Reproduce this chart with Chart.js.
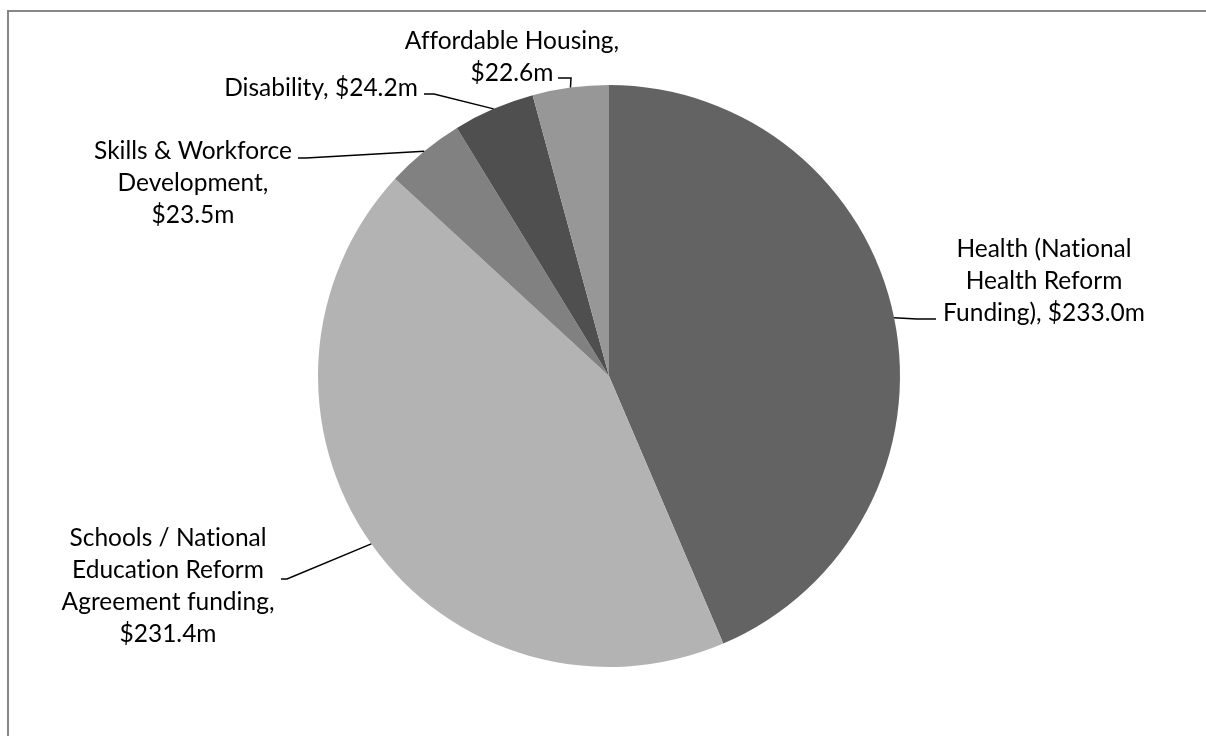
<!DOCTYPE html>
<html>
<head>
<meta charset="utf-8">
<title>Funding by area</title>
<script src="https://cdn.jsdelivr.net/npm/chart.js@4.4.1/dist/chart.umd.min.js"></script>
<style>
  html, body { margin: 0; padding: 0; background: #ffffff; }
  #wrap { position: relative; width: 1206px; height: 736px; overflow: hidden; }
  canvas { display: block; font-variant-ligatures: none; }
</style>
</head>
<body>
<div id="wrap"><canvas id="pie" width="1206" height="736"></canvas></div>
<script>
// Funding areas, clockwise from 12 o'clock
const categories = [
  'Health (National Health Reform Funding)',
  'Schools / National Education Reform Agreement funding',
  'Skills & Workforce Development',
  'Disability',
  'Affordable Housing'
];
// Amounts in $ millions
const amounts = [233.0, 231.4, 23.5, 24.2, 22.6];
// Label text, one entry per line
const labelLines = [
  ['Health (National', 'Health Reform', 'Funding), $233.0m'],
  ['Schools / National', 'Education Reform', 'Agreement funding,', '$231.4m'],
  ['Skills & Workforce', 'Development,', '$23.5m'],
  ['Disability, $24.2m'],
  ['Affordable Housing,', '$22.6m']
];

// Slice fills
const sliceColors = ['#636363', '#b3b3b3', '#818181', '#4f4f4f', '#979797'];

// Where each label block sits (centre x, first baseline y) and where its leader starts/bends
const labelLayout = [
  { cx: 1044, y: 257, lineFrom: [936, 319], elbow: [917, 319] },
  { cx: 168,  y: 546, lineFrom: [281, 579], elbow: [287, 579] },
  { cx: 193,  y: 159, lineFrom: [298, 158], elbow: [306, 158] },
  { cx: 321,  y: 96,  lineFrom: [424, 94],  elbow: [434, 94] },
  { cx: 512,  y: 49,  lineFrom: [558, 78],  elbow: [571, 78] }
];
const lineHeight = 32;
const labelFont = '24.5px Lato, "Open Sans", sans-serif';

// Grey frame along the top and left edges of the chart area
const framePlugin = {
  id: 'frame',
  beforeDraw(chart) {
    const ctx = chart.ctx;
    ctx.save();
    ctx.strokeStyle = '#878787';
    ctx.lineWidth = 2;
    ctx.strokeRect(8, 11, 1400, 900);
    ctx.restore();
  }
};

// Category labels with leader lines to each slice's mid-angle on the rim
const labelPlugin = {
  id: 'sliceLabels',
  afterDatasetsDraw(chart) {
    const ctx = chart.ctx;
    const arcs = chart.getDatasetMeta(0).data;
    ctx.save();
    ctx.font = labelFont;
    if ('textRendering' in ctx) ctx.textRendering = 'optimizeSpeed';
    if ('letterSpacing' in ctx) ctx.letterSpacing = '0.01px';
    ctx.fillStyle = '#000000';
    ctx.textAlign = 'center';
    ctx.textBaseline = 'alphabetic';
    arcs.forEach((arc, i) => {
      const lay = labelLayout[i];
      const lines = labelLines[i];
      lines.forEach((t, k) => ctx.fillText(t, lay.cx, lay.y + k * lineHeight));

      const mid = (arc.startAngle + arc.endAngle) / 2;
      const ax = arc.x + Math.cos(mid) * arc.outerRadius;
      const ay = arc.y + Math.sin(mid) * arc.outerRadius;
      ctx.beginPath();
      ctx.strokeStyle = '#000000';
      ctx.lineWidth = 1.5;
      ctx.moveTo(lay.lineFrom[0], lay.lineFrom[1]);
      ctx.lineTo(lay.elbow[0], lay.elbow[1]);
      ctx.lineTo(ax, ay);
      ctx.stroke();
    });
    ctx.restore();
  }
};

new Chart(document.getElementById('pie'), {
  type: 'pie',
  data: {
    labels: categories,
    datasets: [{
      data: amounts,
      backgroundColor: sliceColors,
      borderWidth: 0,
      hoverOffset: 0,
      offset: 0
    }]
  },
  options: {
    responsive: false,
    animation: false,
    events: [],
    layout: { padding: { top: 85, bottom: 69, left: 318, right: 306 } },
    plugins: {
      legend: { display: false },
      tooltip: { enabled: false }
    }
  },
  plugins: [framePlugin, labelPlugin]
});
</script>
</body>
</html>
